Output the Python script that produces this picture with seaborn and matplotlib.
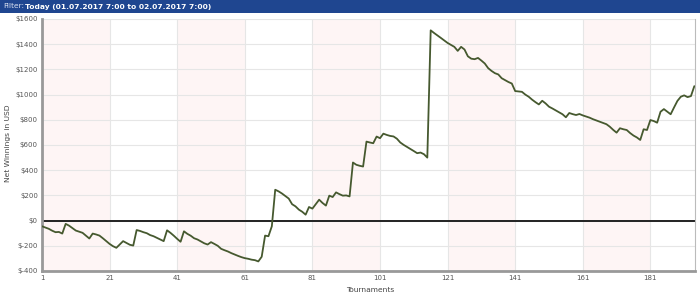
import matplotlib
matplotlib.use("Agg")
import matplotlib.pyplot as plt
import seaborn as sns
import numpy as np
import pandas as pd

winnings = [
    -45, -55, -65, -80, -92, -90, -103, -26, -40, -60,
    -79, -88, -97, -120, -142, -103, -110, -119, -140, -163,
    -185, -203, -216, -190, -163, -178, -192, -198, -75, -82,
    -92, -100, -115, -124, -137, -150, -163, -77, -97, -120,
    -145, -168, -85, -105, -120, -140, -150, -165, -180, -190,
    -171, -185, -200, -224, -235, -245, -258, -269, -280, -290,
    -298, -303, -310, -314, -324, -287, -119, -124, -45, 245,
    232, 215, 195, 175, 130, 113, 87, 70, 47, 108,
    95, 130, 166, 140, 119, 198, 187, 224, 210, 198,
    200, 192, 461, 443, 435, 429, 627, 620, 614, 667,
    654, 690, 680, 672, 668, 650, 620, 601, 585, 569,
    552, 535, 540, 527, 500, 1510, 1489, 1470, 1450, 1430,
    1410, 1395, 1379, 1347, 1379, 1358, 1304, 1285, 1281, 1291,
    1270, 1247, 1210, 1188, 1170, 1160, 1130, 1115, 1100, 1088,
    1028, 1025, 1022, 1000, 983, 960, 940, 922, 951, 930,
    904, 890, 875, 860, 844, 820, 854, 845, 838, 846,
    835, 826, 817, 805, 795, 785, 775, 765, 745, 720,
    698, 733, 725, 719, 695, 675, 660, 640, 725, 719,
    798, 790, 777, 864, 885, 865, 844, 898, 950, 983,
    994, 980, 988, 1067,
]
tournaments = list(range(1, len(winnings) + 1))
x_ticks = [1, 21, 41, 61, 81, 101, 121, 141, 161, 181]
y_ticks = [-400, -200, 0, 200, 400, 600, 800, 1000, 1200, 1400, 1600]
y_tick_labels = ["$-400", "$-200", "$0", "$200", "$400", "$600", "$800",
                 "$1000", "$1200", "$1400", "$1600"]
band_starts = [1, 41, 81, 121, 161]
band_width = 20

df = pd.DataFrame({"Tournament": tournaments, "Winnings": winnings})

sns.set_theme(style="white")
plt.rcParams["font.family"] = ["DejaVu Sans"]

fig = plt.figure(figsize=(7.0, 2.99), dpi=100)
# header bar
fig.patches.append(matplotlib.patches.Rectangle((0, 1 - 13 / 299), 1, 13 / 299,
                                                transform=fig.transFigure,
                                                facecolor="#1f4690", edgecolor="none", zorder=0))
fig.text(3 / 700, 1 - 6.5 / 299, "Filter:", color="#d8e0f0", fontsize=5.4, va="center", ha="left")
fig.text(25 / 700, 1 - 6.5 / 299, "Today (01.07.2017 7:00 to 02.07.2017 7:00)", color="white",
         fontsize=5.4, fontweight="bold", va="center", ha="left")

ax = fig.add_axes([42 / 700, 1 - 271 / 299, (695 - 42) / 700, (271 - 19) / 299])

for s in band_starts:
    ax.axvspan(s, s + band_width, color="#fef5f5", zorder=0, lw=0)

for xt in x_ticks:
    ax.axvline(xt, color="#e6e6e6", lw=0.8, zorder=1)
for yt in y_ticks:
    ax.axhline(yt, color="#e6e6e6", lw=0.8, zorder=1)

ax.axhline(0, color="#222222", lw=1.4, zorder=2)

sns.lineplot(data=df, x="Tournament", y="Winnings", ax=ax, color="#46592f", lw=1.3, zorder=3)

ax.set_xlim(1, 194.2)
ax.set_ylim(-400, 1600)
ax.set_xticks(x_ticks)
ax.set_xticklabels([str(v) for v in x_ticks])
ax.set_yticks(y_ticks)
ax.set_yticklabels(y_tick_labels)
ax.tick_params(axis="both", length=0, labelsize=5.0, labelcolor="#555555", pad=3)
ax.grid(False)

ax.set_xlabel("")
ax.set_ylabel("")
fig.text(370 / 700, 1 - 290 / 299, "Tournaments", fontsize=5.4, color="#444444",
         ha="center", va="center")
fig.text(8 / 700, 1 - 143 / 299, "Net Winnings in USD", fontsize=5.4, color="#444444",
         ha="center", va="center", rotation=90)

for side in ["top", "right"]:
    ax.spines[side].set_color("#bbbbbb")
    ax.spines[side].set_linewidth(0.8)
for side in ["left", "bottom"]:
    ax.spines[side].set_color("#999999")
    ax.spines[side].set_linewidth(2.0)
ax.spines["top"].set_visible(False)

fig.savefig("out.png", dpi=100)
